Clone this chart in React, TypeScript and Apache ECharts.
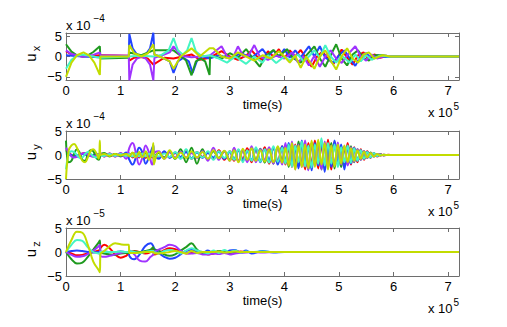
import React, { useEffect, useRef } from "react";
import * as echarts from "echarts";

// ---- axis ticks ----
const xTickValues = [0, 1, 2, 3, 4, 5, 6, 7];
const yTickValues = [-5, 0, 5];
const seriesNames = ["red", "blue", "green", "purple", "cyan", "yellow"];
const seriesColors = ["#ff0000", "#2244ff", "#1f9a1f", "#a033ff", "#44f5c4", "#c2dc00"];

// ---- u_x (x 1e-4), time in 1e5 s ----
const uxRed = [[0,1.3],[0.1,0.5],[0.3,0],[0.62,0.3],[1.15,0.2],[1.16,-1],[1.25,-0.3],[1.38,-0.1],[1.5,-0.5],[1.6,-2],[1.8,-0.3],[1.97,-0.5],[2.3,0.5],[2.45,-0.8],[2.63,-0.3],[2.85,1.3],[3.0,0],[3.15,-0.8],[3.3,0.2],[3.4,1.5],[3.5,0],[3.6,-0.8],[3.7,1.3],[3.8,0],[3.9,1.8],[4.0,-0.5],[4.1,1.5],[4.2,0],[4.3,1.6],[4.4,-0.5],[4.5,-2.5],[4.6,0],[4.7,1.2],[4.8,-0.5],[4.9,-1.8],[5.0,0.3],[5.05,1.7],[5.15,-0.3],[5.25,-2],[5.35,0.3],[5.45,1],[5.55,-0.8],[5.65,0.5],[5.75,-0.3],[5.9,0.1],[6,0],[7.2,0]];
const uxBlue = [[0,0.3],[0.3,0],[0.62,-0.2],[1.15,0],[1.16,5.5],[1.22,2],[1.3,0.5],[1.38,0],[1.46,0.5],[1.54,2],[1.6,5.8],[1.62,0.5],[1.8,-0.5],[1.9,-1.2],[1.97,-4],[2.05,-1.2],[2.15,-0.3],[2.25,-1.2],[2.32,-4],[2.4,-1],[2.5,0],[2.63,-0.5],[2.8,0.3],[3.0,-0.5],[3.2,0.8],[3.4,-0.3],[3.6,1.8],[3.7,0],[3.8,1.5],[3.9,0],[4.0,1.8],[4.1,-0.3],[4.2,1.5],[4.3,-0.2],[4.45,2.5],[4.55,0],[4.65,2.5],[4.75,-0.3],[4.9,-1.5],[5.0,0.3],[5.1,1.5],[5.2,-0.5],[5.3,-2.3],[5.4,0.2],[5.5,0.8],[5.6,-0.5],[5.7,0.3],[5.85,-0.1],[6,0],[7.2,0]];
const uxGreen = [[0,3],[0.1,1.2],[0.2,0.3],[0.3,0.1],[0.4,0.3],[0.5,1.1],[0.62,2.5],[0.63,-0.5],[1.15,-0.3],[1.16,1],[1.38,0.3],[1.6,1.5],[1.97,1.5],[2.1,0.2],[2.2,-1],[2.3,-4.6],[2.38,-1.2],[2.47,-0.5],[2.55,-1.2],[2.63,-4.5],[2.64,0.2],[2.85,-0.5],[3.0,0.8],[3.15,-0.3],[3.3,1.8],[3.4,0],[3.55,-2.5],[3.65,0],[3.8,1.6],[3.9,0],[4.05,1.8],[4.15,-0.3],[4.3,-1.5],[4.4,0.2],[4.55,2.5],[4.65,-0.5],[4.75,-2.5],[4.85,0.3],[4.95,3],[5.05,-0.5],[5.15,-2.2],[5.25,0.5],[5.35,1.5],[5.45,-0.4],[5.55,-1],[5.65,0.3],[5.8,0.3],[5.95,0],[7.2,0]];
const uxPurple = [[0,1.5],[0.1,0.6],[0.3,0],[0.5,0.4],[0.62,1],[0.63,0.3],[1.15,0.2],[1.16,-5.8],[1.22,-2],[1.3,-0.5],[1.38,0],[1.46,-0.5],[1.54,-2],[1.6,-5.8],[1.62,-0.3],[1.8,0.5],[1.9,1],[1.97,2.5],[2.1,0.2],[2.3,-0.2],[2.63,0.2],[2.85,2.5],[2.95,0],[3.05,-0.5],[3.15,2.5],[3.25,0],[3.35,0.3],[3.45,2.8],[3.55,0],[3.7,-0.8],[3.85,0.2],[4.0,-0.5],[4.15,1],[4.25,-1.5],[4.35,0],[4.45,-2.2],[4.55,0.2],[4.65,-2.5],[4.75,0],[4.85,1.5],[4.95,-0.5],[5.05,-1.6],[5.15,0.3],[5.3,2.5],[5.4,0],[5.5,-1],[5.6,0.5],[5.7,-0.5],[5.85,0.2],[6,0],[7.2,0]];
const uxCyan = [[0,-3],[0.1,-0.8],[0.2,0.2],[0.3,0.5],[0.45,0.1],[0.62,-0.3],[1.15,0],[1.38,0.2],[1.6,0],[1.75,0.4],[1.88,1.5],[1.97,4.5],[2.05,1.5],[2.14,0.5],[2.22,1.5],[2.3,4.5],[2.38,1.2],[2.5,0],[2.63,0.3],[2.8,-0.5],[2.95,-1.5],[3.1,0],[3.3,-1.8],[3.45,0],[3.6,-1.5],[3.7,0.3],[3.85,-1.6],[4.0,0],[4.1,-1],[4.25,0.5],[4.35,-1.2],[4.45,0],[4.55,1.5],[4.65,-0.3],[4.75,2.8],[4.85,0],[4.95,-1.5],[5.05,0.2],[5.2,-1.5],[5.3,0.5],[5.4,-1.2],[5.5,0.3],[5.6,-0.8],[5.75,0.2],[5.9,0],[7.2,0]];
const uxYellow = [[0,-5],[0.1,-1.5],[0.2,0.3],[0.32,1],[0.42,0.3],[0.52,-1.5],[0.62,-4.5],[0.63,0],[1.15,0],[1.16,2.8],[1.25,0.8],[1.38,0],[1.5,0.8],[1.6,3],[1.62,0.5],[1.8,-0.5],[1.9,-1.2],[1.97,-3],[2.1,0],[2.3,2],[2.45,0],[2.63,2],[2.7,2],[2.85,0],[3.0,-0.5],[3.15,1],[3.3,0],[3.45,-1],[3.6,0.3],[3.75,-0.5],[3.9,1.3],[4.0,0],[4.1,-1.5],[4.2,0.2],[4.3,-2.8],[4.4,0],[4.55,-3],[4.65,0],[4.75,1.5],[4.85,-1],[4.95,-3.2],[5.05,0],[5.15,2],[5.25,-0.5],[5.35,-1.5],[5.45,0.5],[5.55,1],[5.65,-0.5],[5.8,0.3],[5.95,0],[7.2,0]];

// ---- u_y (x 1e-4) on a shared time grid ----
const uyTime = [
  0, 0.05, 0.1, 0.15, 0.2, 0.25, 0.3, 0.35, 0.4, 0.45, 0.5, 0.55, 0.6,
  0.62, 0.63, 0.7, 0.8, 0.9, 1.0, 1.1,
  1.16, 1.22, 1.28, 1.34, 1.4, 1.46, 1.52, 1.58, 1.6, 1.61,
  1.7, 1.8, 1.9, 2.0, 2.1, 2.2, 2.3, 2.4, 2.5, 2.6, 2.7, 2.8, 2.9, 3.0,
  3.08, 3.16, 3.24, 3.32, 3.4, 3.48, 3.56, 3.64, 3.72, 3.8, 3.88, 3.96,
  4.02, 4.08, 4.14, 4.2, 4.26, 4.32, 4.38, 4.44, 4.5, 4.56, 4.62, 4.68, 4.74, 4.8, 4.86, 4.92, 4.98, 5.04, 5.1, 5.16,
  5.22, 5.28, 5.34, 5.4, 5.46, 5.52, 5.58, 5.64, 5.7, 5.76, 5.82, 5.9, 6.0, 6.2, 7.2,
];
const uyRed = [
  1, 0.5, 0, -0.3, -0.3, 0, 0.3, 0.4, 0.2, -0.1, -0.3, -0.2, 0.1,
  0.2, 0.3, -0.3, 0.3, -0.3, 0.3, -0.2,
  0.3, -0.5, 0.5, -0.5, 0.6, -0.6, 0.5, -0.5, -0.4, 0.2,
  -0.5, 0.6, -0.5, 0.4, -0.7, 0.8, -0.8, 0.6, -0.4, 0.5, -0.8, 1.0, -1.0, 0.8,
  -1.2, 1.0, -0.8, 1.4, -1.5, 1.2, -1.3, 1.6, -1.8, 1.5, -1.2, 1.8,
  -2.0, 1.5, -2.5, 2.2, -1.8, 2.5, -3.0, 2.5, -2.0, 3.0, -2.8, 2.2, -2.5, 3.2, -3.0, 2.8, -2.0, 1.8, -2.2, 2.5,
  -2.0, 1.6, -1.5, 1.2, -1.0, 0.8, -0.6, 0.4, -0.3, 0.2, -0.1, 0.05, 0, 0, 0,
];
const uyBlue = [
  0.3, 0.2, 0, -0.2, -0.1, 0.1, 0.2, 0.1, -0.1, -0.2, 0, 0.2, 0.1,
  0, -0.2, 0.2, -0.2, 0.2, -0.3, 0.5,
  -1.0, -2.0, -0.5, 1.5, 0.5, -1.8, -0.5, 1.5, 2.0, 0.3,
  -0.8, 0.8, -0.6, 0.5, -0.4, 0.6, -0.7, 0.5, -0.6, 0.4, -0.5, 0.7, -0.8, 0.6,
  -0.8, 1.0, -1.2, 0.8, -1.0, 1.3, -1.5, 1.2, -1.0, 1.5, -2.0, 1.8,
  -1.5, 2.5, -2.0, 1.5, -2.8, 3.0, -2.0, 1.8, -3.2, 2.5, -2.2, 3.0, -3.5, 2.0, -2.5, 3.0, -2.0, 2.2, -3.0, 1.8,
  -1.8, 1.5, -1.2, 1.0, -0.8, 0.6, -0.5, 0.3, -0.2, 0.1, -0.05, 0, 0, 0, 0,
];
const uyGreen = [
  3, -1.5, -1.2, 0.3, 1.2, 0.5, -1.0, -1.2, 0.2, 1.0, 0.8, -0.5, -1.0,
  -0.6, 0, 0.4, -0.3, 0.2, -0.2, 0.2,
  -0.3, 0.4, -0.4, 0.5, -0.3, 0.4, -0.5, 0.4, 0.2, -0.2,
  0.4, -0.5, 0.6, -0.8, 1.2, -1.5, 1.5, -1.8, 1.2, -1.0, 0.8, -0.6, 0.8, -1.0,
  1.2, -1.4, 1.0, -1.2, 1.5, -1.0, 1.3, -1.6, 1.2, -1.8, 1.6, -1.2,
  2.0, -2.5, 1.8, -2.0, 2.8, -2.2, 1.6, -3.0, 2.5, -2.0, 2.8, -3.0, 2.2, -1.8, 2.5, -2.8, 2.0, -2.5, 1.5, -2.0,
  1.8, -1.5, 1.2, -1.0, 0.8, -0.6, 0.5, -0.3, 0.2, -0.1, 0.05, 0, 0, 0, 0,
];
const uyPurple = [
  1.5, 0.5, -0.3, -0.5, -0.4, 0, 0.3, 0.4, 0.1, -0.2, -0.3, -0.1, 0.2,
  0, 0.3, -0.3, 0.3, -0.3, 0.4, -0.8,
  1.5, 2.5, 0.5, -2.0, -0.5, 2.0, 0.5, -2.0, -1.5, 0.3,
  0.8, -0.8, 0.6, -0.5, 0.7, -0.5, 0.4, -0.6, 0.8, -1.2, 1.5, -1.0, 0.8, -1.2,
  1.5, -1.2, 1.0, -1.5, 1.8, -1.5, 1.2, -1.0, 1.6, -1.8, 1.5, -2.0,
  2.5, -2.0, 2.8, -3.0, 2.2, -2.5, 3.0, -3.2, 2.5, -2.0, 2.5, -3.0, 2.8, -2.5, 2.0, -2.2, 2.6, -2.0, 1.8, -2.2,
  1.6, -1.4, 1.2, -1.0, 0.8, -0.6, 0.4, -0.3, 0.2, -0.1, 0.05, 0, 0, 0, 0,
];
const uyCyan = [
  -3, 0.2, 0.8, 0.6, 0, -0.6, -0.5, 0.2, 0.6, 0.3, -0.3, -0.5, 0,
  0.2, 0, -0.2, 0.2, -0.2, 0.2, -0.2,
  0.2, -0.3, 0.3, -0.3, 0.3, -0.3, 0.3, -0.3, 0.1, 0,
  -0.3, 0.3, -0.4, 0.6, -0.8, 1.2, -0.8, 0.6, -0.5, 0.8, -1.0, 0.8, -0.6, 0.8,
  -1.0, 1.2, -1.5, 1.0, -1.2, 1.6, -1.4, 1.2, -1.6, 1.8, -1.4, 1.5,
  -1.8, 2.2, -2.5, 2.0, -1.5, 2.8, -2.4, 2.0, -2.6, 2.2, -1.8, 3.5, -2.2, 2.5, -1.8, 2.2, -2.5, 1.6, -1.5, 2.0,
  -1.6, 1.4, -1.2, 1.0, -0.8, 0.6, -0.5, 0.4, -0.2, 0.1, -0.05, 0, 0, 0, 0,
];
const uyYellow = [
  -5, 1.0, 2.0, 2.3, 1.5, 0, -1.2, -1.5, -0.5, 0.8, 1.2, 0.5, -0.8,
  3.0, 0, 0.2, -0.2, 0.2, -0.1, 0.2,
  -0.2, 0.5, -0.5, 0.6, -0.5, 0.8, -1.0, 0.8, 2.5, -2.0,
  0.6, -0.8, 1.0, -0.7, 0.5, -0.6, 0.8, -0.5, 0.6, -0.8, 1.0, -0.7, 0.9, -1.2,
  1.0, -1.5, 1.3, -1.0, 1.4, -1.2, 1.0, -1.4, 1.2, -1.5, 1.8, -1.6,
  1.5, -2.2, 2.5, -3.0, 2.0, -2.5, 2.2, -2.8, 3.0, -2.5, 3.2, -2.0, 2.5, -3.0, 2.0, -2.4, 2.2, -1.8, 2.0, -1.5,
  1.4, -1.2, 1.0, -0.8, 0.7, -0.5, 0.4, -0.3, 0.2, -0.1, 0.05, 0, 0, 0, 0,
];

// ---- u_z (x 1e-5) on a shared time grid ----
const uzTime = [
  0, 0.1, 0.2, 0.3, 0.4, 0.5, 0.6,
  0.62, 0.63,
  0.7, 0.8, 0.9, 1.0, 1.1,
  1.15, 1.16,
  1.25, 1.35, 1.45, 1.55,
  1.6, 1.61,
  1.7, 1.8, 1.9, 2.0, 2.1, 2.2, 2.3, 2.4, 2.5, 2.6,
  2.7, 2.8, 2.9, 3.0, 3.1, 3.2, 3.3, 3.4,
  3.6, 3.8, 4.0, 4.5, 5.0, 7.2,
];
const uzRed = [
  0, -0.3, -0.7, -0.6, -0.3, 0, 0.3,
  0.5, 0.8,
  1.5, 0.8, -0.5, -1.2, -0.8,
  -0.3, -0.3,
  0.2, 0, -0.3, 0,
  0.5, -0.5,
  -0.2, 0.4, 0.8, 0.6, 0.2, -0.3, -0.2, 0.1, 0, -0.5,
  -0.3, 0, 0.2, -0.2, 0, 0.1, 0, 0,
  0, 0, 0, 0, 0, 0,
];
const uzBlue = [
  0, 0.2, 0.3, 0.2, 0, -0.1, 0,
  0, 0,
  0.1, 0, 0, 0.1, 0,
  0, -0.8,
  -1.5, -0.5, 1.2, 1.8,
  1.2, 0.8,
  -0.2, -1.0, -1.4, -1.2, -0.5, 0.2, 0.4, 0.2, -0.2, 0.3,
  -0.3, 0.2, -0.2, 0.3, 0.4, -0.2, 0.3, -0.3,
  0.2, -0.1, 0, 0, 0, 0,
];
const uzGreen = [
  0, -1.5, -2.4, -2.2, -1.0, 0.5, 2.0,
  2.4, 0,
  -0.3, -0.5, -0.6, -0.3, -0.2,
  -0.2, 0,
  0.1, 0, 0.2, 0.5,
  1.0, 0.5,
  0.3, -0.5, -0.8, -0.5, 0.3, 1.0, 1.8, 0.5, -0.3, 0,
  -0.2, 0.2, 0, -0.2, 0.1, 0, 0, 0,
  0, 0, 0, 0, 0, 0,
];
const uzPurple = [
  0, -0.6, -1.0, -0.9, -0.4, 0.3, 1.2,
  1.5, -0.8,
  -1.0, -0.8, -0.5, -0.2, 0,
  0, 0.3,
  -0.5, -1.8, -2.0, -1.0,
  -0.5, 0,
  0.5, 1.0, 1.5, 1.2, 0.3, -0.2, -0.3, -0.2, -0.5, -0.5,
  -0.3, -0.4, -0.2, -0.5, -0.3, -0.2, -0.1, 0,
  -0.1, 0, 0, 0, 0, 0,
];
const uzCyan = [
  0, 1.5, 2.5, 2.3, 1.0, 0, -0.3,
  -0.5, 0,
  0, 0, 0, 0.1, 0,
  0, 0.2,
  0, -0.2, 0, 0.2,
  0.2, 0,
  -0.3, 0.2, 0.4, 0.2, -0.3, 0.3, 0.8, 0.3, 0, -0.3,
  0.3, -0.2, 0.4, 0, 0.3, -0.1, 0.1, 0,
  0.1, 0, 0, 0, 0, 0,
];
const uzYellow = [
  0, 2.5, 4.2, 4.0, 1.5, -2.0, -3.8,
  -4.2, -0.5,
  0.2, 1.2, 1.8, 1.6, 1.5,
  1.5, -0.2,
  -0.2, -0.1, 0, 0,
  0, -0.2,
  -0.3, -0.2, 0, 0.2, 0, -0.3, 0.2, -0.2, 0, 0,
  0, 0.1, -0.1, 0, 0.1, 0, 0, 0,
  0, 0, 0, 0, 0, 0,
];

const FONT = "'Liberation Sans', Arial, Helvetica, sans-serif";
const BOX = "#6e6e6e";

const panels = [
  { top: 33, height: 47, yMax: 5.75, sub: "x", exp: "−4", smooth: false,
    data: [uxRed, uxBlue, uxGreen, uxPurple, uxCyan, uxYellow] },
  { top: 131, height: 48, yMax: 5, sub: "y", exp: "−4", smooth: 0.4,
    data: [uyRed, uyBlue, uyGreen, uyPurple, uyCyan, uyYellow].map((v) => uyTime.map((t, i) => [t, v[i]])) },
  { top: 228, height: 48, yMax: 5, sub: "z", exp: "−5", smooth: 0.4,
    data: [uzRed, uzBlue, uzGreen, uzPurple, uzCyan, uzYellow].map((v) => uzTime.map((t, i) => [t, v[i]])) },
];

const LEFT = 66;
const WIDTH = 393;

function buildOption() {
  const grid: any[] = [];
  const xAxis: any[] = [];
  const yAxis: any[] = [];
  const series: any[] = [];
  const graphic: any[] = [];
  panels.forEach((p, g) => {
    grid.push({ left: LEFT, top: p.top, width: WIDTH, height: p.height, show: false });
    const lineStyle = { color: BOX, width: 1 };
    xAxis.push({
      type: "value", gridIndex: g, min: 0, max: 7.2, position: "bottom",
      axisLine: { show: true, onZero: false, lineStyle },
      axisTick: { show: true, inside: true, length: 4, lineStyle, customValues: xTickValues },
      axisLabel: { show: true, margin: 4, color: "#000", fontSize: 13, fontFamily: FONT, customValues: xTickValues },
      splitLine: { show: false },
      name: "time(s)", nameLocation: "middle", nameGap: 18,
      nameTextStyle: { color: "#000", fontSize: 13, fontFamily: FONT },
    });
    xAxis.push({
      type: "value", gridIndex: g, min: 0, max: 7.2, position: "top",
      axisLine: { show: true, onZero: false, lineStyle },
      axisTick: { show: true, inside: true, length: 4, lineStyle, customValues: xTickValues },
      axisLabel: { show: false },
      splitLine: { show: false },
    });
    yAxis.push({
      type: "value", gridIndex: g, min: -p.yMax, max: p.yMax, position: "left",
      axisLine: { show: true, onZero: false, lineStyle },
      axisTick: { show: true, inside: true, length: 4, lineStyle, customValues: yTickValues },
      axisLabel: {
        show: true, margin: 4, color: "#000", fontSize: 13, fontFamily: FONT, customValues: yTickValues,
        formatter: (v: number) => String(v).replace("-", "−"),
      },
      splitLine: { show: false },
    });
    yAxis.push({
      type: "value", gridIndex: g, min: -p.yMax, max: p.yMax, position: "right",
      axisLine: { show: true, onZero: false, lineStyle },
      axisTick: { show: true, inside: true, length: 4, lineStyle, customValues: yTickValues },
      axisLabel: { show: false },
      splitLine: { show: false },
    });
    p.data.forEach((d: any, k: number) => {
      series.push({
        type: "line", name: seriesNames[k] + g, xAxisIndex: 2 * g, yAxisIndex: 2 * g,
        data: d, showSymbol: false, symbol: "none", smooth: p.smooth, clip: true,
        lineStyle: { color: seriesColors[k], width: 2 }, itemStyle: { color: seriesColors[k] },
        z: 2 + k,
      });
    });
    const bottom = p.top + p.height;
    const mid = p.top + p.height / 2;
    graphic.push({ type: "text", x: 30, y: mid + 1, rotation: Math.PI / 2,
      style: { text: "u", fontSize: 15, fontFamily: FONT, fill: "#000", align: "center", verticalAlign: "middle" } });
    graphic.push({ type: "text", x: 36, y: mid - 8, rotation: Math.PI / 2,
      style: { text: p.sub, fontSize: 11, fontFamily: FONT, fill: "#000", align: "center", verticalAlign: "middle" } });
    graphic.push({ type: "text", x: LEFT, y: p.top - 8,
      style: { text: "x 10", fontSize: 13, fontFamily: FONT, fill: "#000", align: "left", verticalAlign: "middle" } });
    graphic.push({ type: "text", x: LEFT + 27.5, y: p.top - 15,
      style: { text: p.exp, fontSize: 10, fontFamily: FONT, fill: "#000", align: "left", verticalAlign: "middle" } });
    graphic.push({ type: "text", x: LEFT + WIDTH - 6.5, y: bottom + 32,
      style: { text: "x 10", fontSize: 13, fontFamily: FONT, fill: "#000", align: "right", verticalAlign: "middle" } });
    graphic.push({ type: "text", x: LEFT + WIDTH, y: bottom + 26,
      style: { text: "5", fontSize: 10, fontFamily: FONT, fill: "#000", align: "right", verticalAlign: "middle" } });
  });
  return {
    animation: false,
    backgroundColor: "#fff",
    textStyle: { fontFamily: FONT },
    grid, xAxis, yAxis, series, graphic,
  };
}

export default function App() {
  const ref = useRef<HTMLDivElement>(null);
  useEffect(() => {
    document.body.style.margin = "0";
    const chart = echarts.init(ref.current!, null, { renderer: "svg" });
    chart.setOption(buildOption() as any);
    return () => chart.dispose();
  }, []);
  return <div ref={ref} style={{ width: 507, height: 327 }} />;
}
